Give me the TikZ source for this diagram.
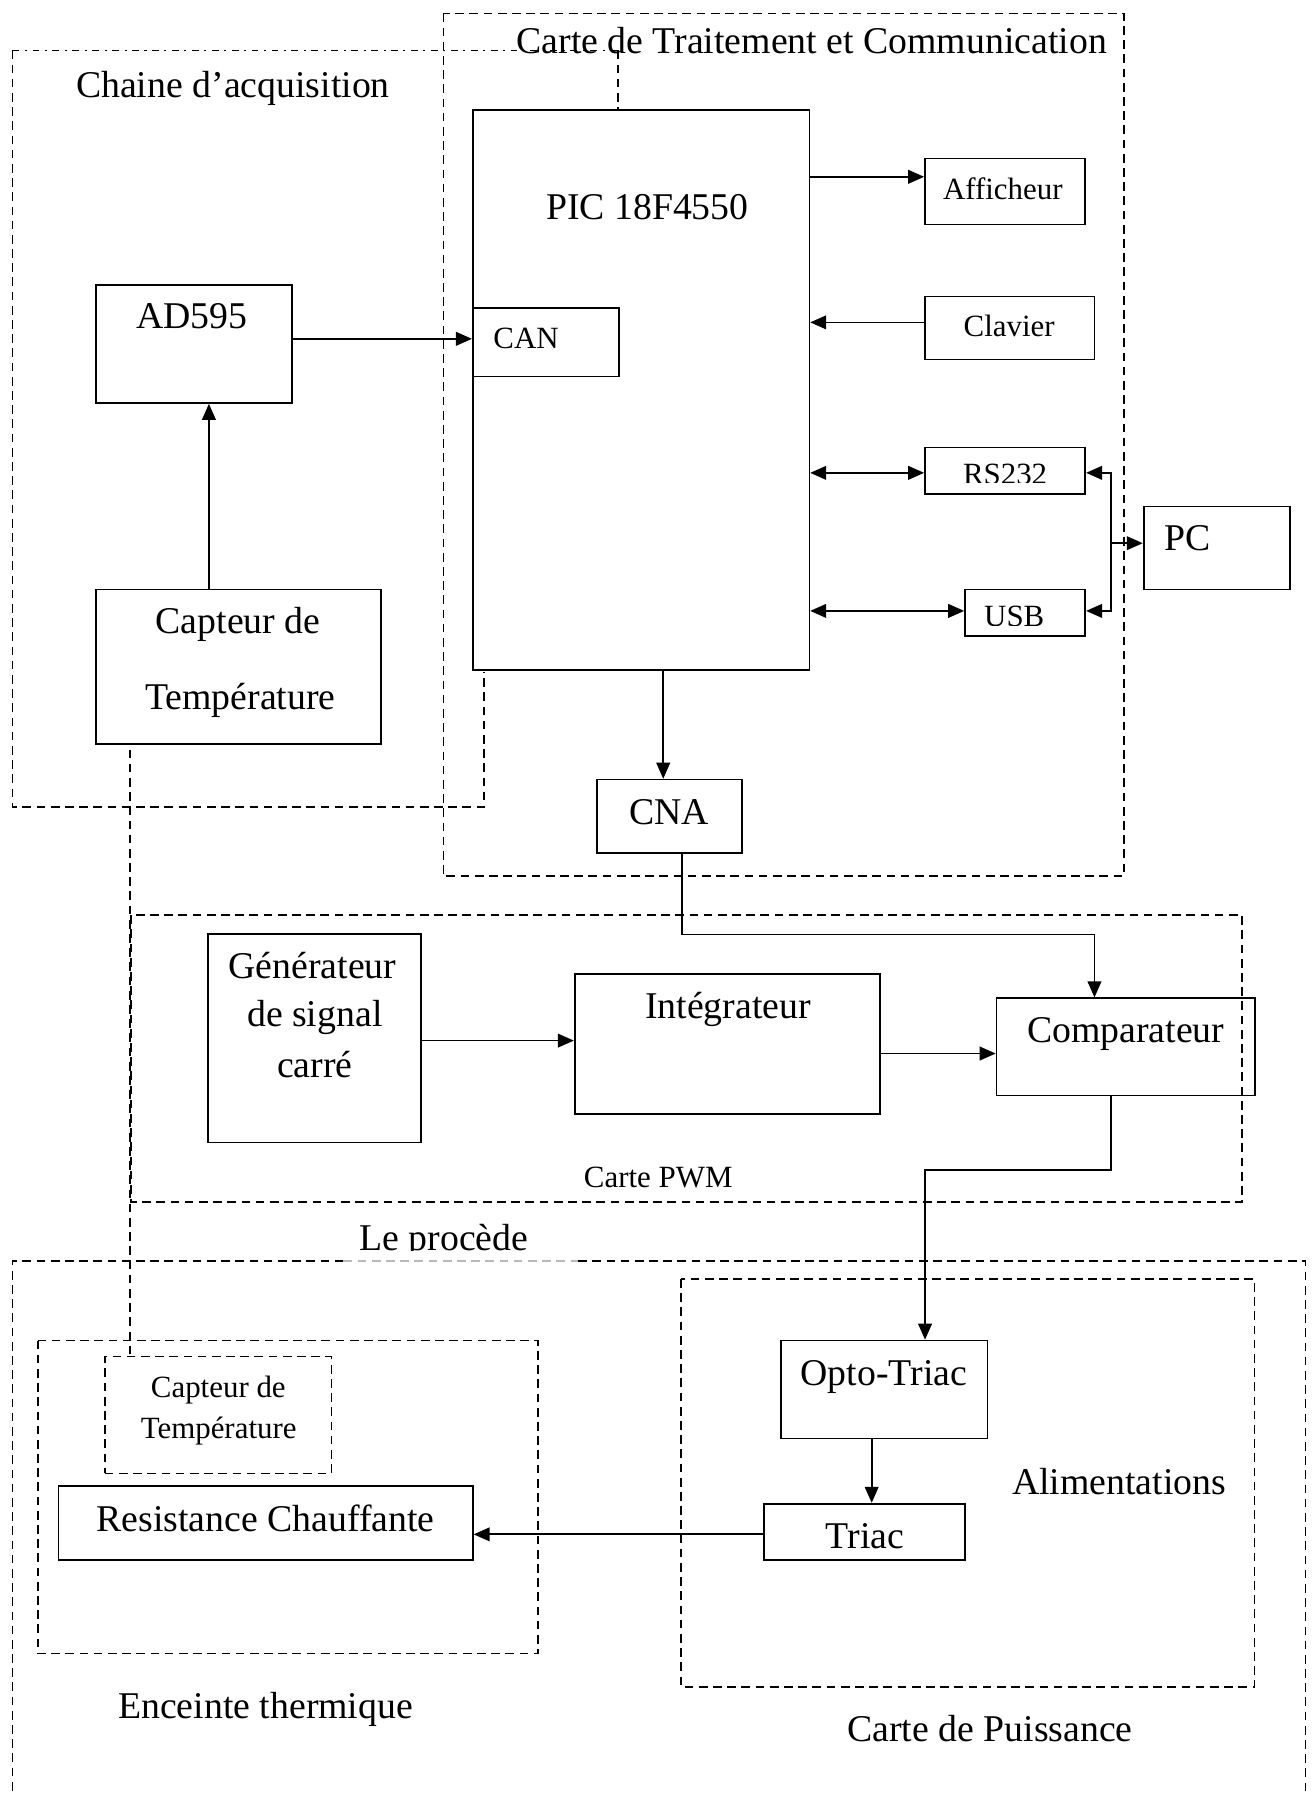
\documentclass[tikz,border=0pt]{standalone}
\usepackage{fontspec}
\setmainfont{Liberation Serif}
\usetikzlibrary{arrows.meta}
\tikzset{>={Triangle[length=7pt,width=6pt]}}
\tikzstyle{blk}=[draw,line width=0.75pt,inner sep=0pt]
\tikzstyle{blkd}=[blk,line width=0.7pt,dash pattern=on 3.8pt off 2.4pt]
\tikzstyle{zone}=[line width=0.7pt,dash pattern=on 3.8pt off 2.4pt]
\tikzstyle{zonedd}=[line width=0.7pt,dash pattern=on 3pt off 2.4pt on 0.9pt off 2.4pt]
\tikzstyle{lien}=[->,line width=0.75pt]
\tikzstyle{big}=[inner sep=0pt,anchor=base,font=\fontsize{16.5}{19}\selectfont]
\tikzstyle{small}=[inner sep=0pt,anchor=base,font=\fontsize{13.5}{16}\selectfont]
\tikzset{sz/.style 2 args={minimum width=#1*0.5pt,minimum height=#2*0.5pt}}

\begin{document}
\begin{tikzpicture}[x=0.5pt,y=-0.5pt]
  \useasboundingbox (0,0) rectangle (1149,1568);

  % BLOCS
  \node[blk,sz={294}{489}]     (pic)   at (560,340.5)    {};
  \node[blk,sz={128}{60}]      (can)   at (477,299)      {};
  \node[blk,sz={171}{103}]     (ad)    at (169.5,300.5)  {};
  \node[blk,sz={249}{135}]     (capt)  at (208.5,582.5)  {};
  \node[blk,sz={140}{57.5}]    (aff)   at (878,167.25)   {};
  \node[blk,sz={148}{55}]      (clav)  at (882,286.5)    {};
  \node[blk,sz={140}{40.5}]    (rs)    at (878,411.25)   {};
  \node[blk,sz={105}{40.5}]    (usb)   at (895.5,535.25) {};
  \node[blk,sz={128}{72.5}]    (pc)    at (1063,478.75)  {};
  \node[blk,sz={126.5}{64}]    (cna)   at (584.75,713)   {};
  \node[blk,sz={186}{182}]     (gen)   at (275,907)      {};
  \node[blk,sz={267}{122}]     (integ) at (635.5,912)    {};
  \node[blk,sz={225.5}{85}]    (comp)  at (983.25,914.5) {};
  \node[blk,sz={180.5}{85.5}]  (opto)  at (772.25,1213.75) {};
  \node[blk,sz={175.5}{49}]    (triac) at (755.25,1338)  {};
  \node[blk,sz={362}{64.5}]    (res)   at (232,1330.25)  {};
  \node[blkd,sz={198}{102}]    (capt2) at (190.5,1236)   {};

  % TEXTES
  \node[big]   (t-chaine) at (203.5,85)  {Chaine d’acquisition};
  \node[big]   (t-trait)  at (709,47)    {Carte de Traitement et Communication};
  \node[big]   (t-pic)    at (565.5,192) {PIC 18F4550};
  \node[big]   (t-ad)     at (167.5,287) {AD595};
  \node[small] (t-can)    at (459.5,304) {CAN};
  \node[small] (t-aff)    at (876,174)   {Afficheur};
  \node[small] (t-clav)   at (881.5,294) {Clavier};
  \begin{scope}
    \clip (808,391) rectangle (948,421.7);
    \node[small] (t-rs) at (878,423.5) {RS232};
  \end{scope}
  \begin{scope}
    \clip (843,515) rectangle (948,546);
    \node[small] (t-usb) at (886,547.5) {USB};
  \end{scope}
  \node[big]   (t-pc)     at (1037,481)  {PC};
  \node[big]   (t-capt1)  at (208,553)   {Capteur de};
  \node[big]   (t-capt2)  at (210,620)   {Température};
  \node[big]   (t-cna)    at (584.5,720) {CNA};
  \node[big]   (t-gen1)   at (273,855)   {Générateur};
  \node[big]   (t-gen2)   at (275,897)   {de signal};
  \node[big]   (t-gen3)   at (275,941)   {carré};
  \node[big]   (t-integ)  at (636,890)   {Intégrateur};
  \node[big]   (t-comp)   at (983.4,911) {Comparateur};
  \node[small] (t-pwm)    at (575,1037)  {Carte PWM};
  \begin{scope}
    \clip (300,1050) rectangle (480,1092.5);
    \node[big] (t-proc) at (387.7,1092) {Le procède};
  \end{scope}
  \node[big]   (t-opto)   at (772,1210)   {Opto-Triac};
  \node[big]   (t-alim)   at (977.5,1305.5) {Alimentations};
  \node[big]   (t-triac)  at (755.5,1353)  {Triac};
  \node[big]   (t-res)    at (232,1337.5)  {Resistance Chauffante};
  \node[small] (t-cpt1)   at (190.7,1221)  {Capteur de};
  \node[small] (t-cpt2)   at (191,1257)    {Température};
  \node[big]   (t-enc)    at (232,1501)    {Enceinte thermique};
  \node[big]   (t-puis)   at (864.8,1521)  {Carte de Puissance};

  % ZONES
  \draw[zone] (387.3,11.7) rectangle (981.8,765.4);
  \draw[zonedd] (11,44) -- (540,44);
  \draw[zone] (540,44) -- (540,44 |- pic.north);
  \draw[zone] (11,44) -- (11,705) -- (423,705) -- (423,587);
  \draw[zone] (114.3,799.5) rectangle (1085,1050);
  \draw[zone] (300,1101.5) -| (11,1568);
  \draw[zone,gray!55] (300,1101.5) -- (505,1101.5);
  \draw[zone] (505,1101.5) -| (1140.5,1568);
  \draw[zone] (33,1171) rectangle (470,1444.5);
  \draw[zone] (594.8,1117.3) rectangle (1096,1473.6);
  \draw[zone] ([xshift=15.15pt,yshift=-2pt]capt.south west) -- ([xshift=15.15pt]capt.south west |- capt2.north);

  % LIAISONS
  \draw[lien] ([yshift=2.25pt]ad.east) -- ([yshift=2.25pt]ad.east -| can.west);
  \draw[lien] ([xshift=-13pt]capt.north) -- ([xshift=-13pt]capt.north |- ad.south);
  \draw[lien] ([yshift=6.4pt]aff.west -| pic.east) -- ([yshift=6.4pt]aff.west);
  \draw[lien] ([yshift=2.45pt]clav.west) -- ([yshift=2.45pt]clav.west -| pic.east);
  \draw[<->,line width=0.75pt] ([yshift=-0.9pt]rs.west -| pic.east) -- ([yshift=-0.9pt]rs.west);
  \draw[<->,line width=0.75pt] ([yshift=0.8pt]usb.west -| pic.east) -- ([yshift=0.8pt]usb.west);
  \coordinate (bus) at (970.5,474.5);
  \draw[lien] (bus) |- ([yshift=-0.9pt]rs.east);
  \draw[lien] (bus) |- ([yshift=0.8pt]usb.east);
  \draw[lien] (bus) -- (bus -| pc.west);
  \draw[lien] ([xshift=-2.7pt]cna.north |- pic.south) -- ([xshift=-2.7pt]cna.north);
  \draw[lien] ([xshift=5.4pt]cna.south) -- ++(0,70.5) -| ([xshift=-13.6pt]comp.north);
  \draw[lien] ([yshift=-1pt]gen.east) -- ([yshift=-1pt]gen.east -| integ.west);
  \draw[lien] ([yshift=-2.9pt]comp.west -| integ.east) -- ([yshift=-2.9pt]comp.west);
  \draw[lien] ([xshift=-6.4pt]comp.south) -- ++(0,64.4) -| ([xshift=17.9pt]opto.north);
  \draw[lien] ([xshift=-5.4pt]opto.south) -- ([xshift=-5.4pt]opto.south |- triac.north);
  \draw[lien] ([yshift=-1.15pt]triac.west) -- ([yshift=-1.15pt]triac.west -| res.east);
\end{tikzpicture}
\end{document}
